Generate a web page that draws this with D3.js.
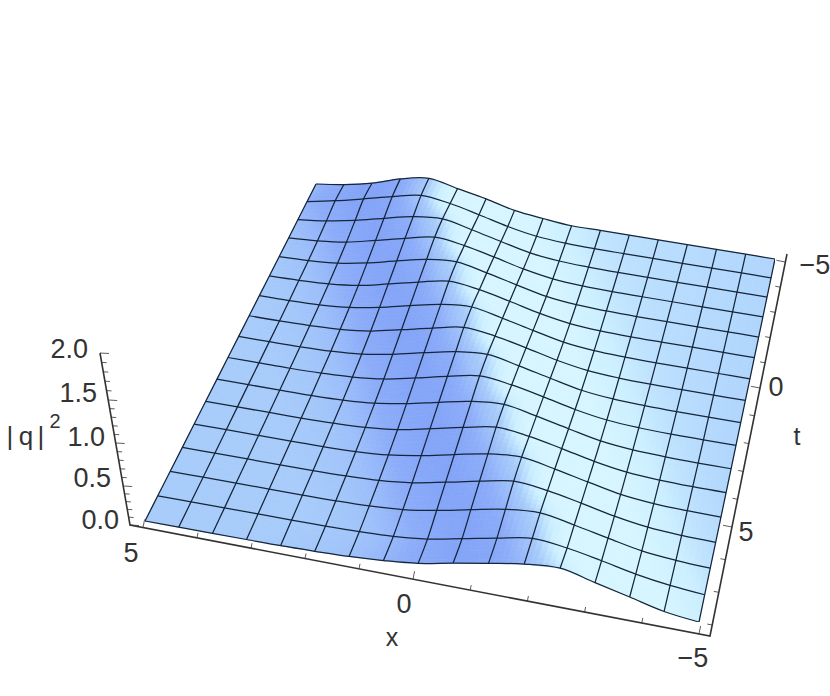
<!DOCTYPE html>
<html><head><meta charset="utf-8">
<script src="https://cdn.jsdelivr.net/npm/d3@7"></script>
<style>html,body{margin:0;background:#fff}svg{display:block}text{font-family:"Liberation Sans",Arial,sans-serif;fill:#333}</style>
</head><body><svg id="c" width="830" height="696"><defs><filter id="soft" x="0" y="0" width="100%" height="100%"><feGaussianBlur stdDeviation="0.4"/></filter></defs></svg>
<script>
const xValues=[5,4.375,3.75,3.125,2.5,1.875,1.25,0.625,0,-0.625,-1.25,-1.875,-2.5,-3.125,-3.75,-4.375,-5];
const tValues=[-5,-4.1875,-3.375,-2.5625,-1.75,-0.9375,-0.125,0.6875,1.5,2.3125,3.125,3.9375,4.75,5.5625,6.375,7.1875,8];
const surfaceZ=[
[0,.047,.116,.22,.28,.215,.15,.07,.03,0,0,0,0,0,0,0,0],
[0,.064,.14,.22,.29,.25,.175,.093,.035,.01,.001,0,0,0,0,0,0],
[0,.04,.10,.18,.255,.285,.215,.134,.058,.02,.006,0,0,0,0,0,0],
[0,.023,.064,.14,.22,.29,.25,.175,.093,.035,.01,.001,0,0,0,0,0],
[0,.012,.04,.10,.18,.255,.285,.215,.134,.058,.02,.006,0,0,0,0,0],
[0,.007,.023,.064,.14,.22,.29,.25,.175,.093,.035,.01,.001,0,0,0,0],
[0,.002,.012,.04,.10,.18,.255,.285,.215,.134,.058,.02,.006,0,0,0,0],
[0,0,.007,.023,.064,.14,.22,.29,.25,.175,.093,.035,.01,.001,0,0,0],
[0,0,.002,.012,.04,.10,.18,.255,.285,.215,.134,.058,.02,.006,0,0,0],
[0,0,0,.007,.023,.064,.14,.22,.29,.25,.175,.093,.035,.01,.001,0,0],
[0,0,0,.002,.012,.04,.10,.18,.255,.285,.215,.134,.058,.02,.006,0,0],
[0,0,0,0,.007,.023,.064,.14,.22,.29,.25,.175,.093,.035,.01,.001,0],
[0,0,0,0,.002,.012,.04,.10,.18,.255,.285,.215,.134,.058,.02,.006,0],
[0,0,0,0,0,.007,.023,.064,.14,.22,.29,.25,.175,.093,.035,.01,0],
[0,0,0,0,0,.002,.012,.04,.10,.18,.255,.285,.215,.134,.058,.02,0],
[0,0,0,0,0,0,.007,.023,.064,.14,.22,.29,.25,.175,.093,.035,0],
[0,0,0,0,0,.008,.02,.046,.086,.163,.233,.30,.326,.233,.14,.047,0]
];
const zTicks=[0,.5,1,1.5,2], zTickLabels=["0.0","0.5","1.0","1.5","2.0"];
const xTicks=[5,4,3,2,1,0,-1,-2,-3,-4,-5], xMajor=[5,0,-5];
const tTicks=[-5,-4,-3,-2,-1,0,1,2,3,4,5,6,7,8], tMajor=[-5,0,5];

const svg=d3.select("#c");
const u=d3.scaleLinear().domain([5,-5]).range([0,1]);
const v=d3.scaleLinear().domain([-5,8]).range([0,1]);
const lift=d3.scaleLinear().domain([0,2]).range([0,172]);
const Q=[[316,184],[775,259],[699,622],[145,521]];
function homography(q){
  const [[x0,y0],[x1,y1],[x2,y2],[x3,y3]]=q;
  const dx1=x1-x2,dx2=x3-x2,sx=x0-x1+x2-x3,dy1=y1-y2,dy2=y3-y2,sy=y0-y1+y2-y3;
  const det=dx1*dy2-dx2*dy1,g=(sx*dy2-dx2*sy)/det,h=(dx1*sy-sx*dy1)/det;
  const a=x1-x0+g*x1,b=x3-x0+h*x3,d=y1-y0+g*y1,e=y3-y0+h*y3;
  return (s,r)=>{const w=g*s+h*r+1;return [(a*s+b*r+x0)/w,(d*s+e*r+y0)/w];};
}
const floor=homography(Q);
const VP=[415,2160];
function project(x,t,z){
  const [px,py]=floor(u(x),v(t));
  const L=lift(z);
  return [px+L*(px-VP[0])/(VP[1]-py),py-L];
}
const nC=xValues.length,nR=tValues.length;
const pts=surfaceZ.map((row,r)=>row.map((z,c)=>project(xValues[c],tValues[r],z)));
const clampC=c=>Math.max(0,Math.min(nC-1,c));
const rawSlope=surfaceZ.map(row=>row.map((z,c)=>lift(row[clampC(c+1)])-lift(row[clampC(c-1)])));
const slope=rawSlope.map(row=>row.map((s,c)=>(row[clampC(c-1)]+2*s+row[clampC(c+1)])/4));
const crest=surfaceZ.map(row=>d3.scan(row,(a,b)=>b-a));
const shade=d3.scaleLinear().domain([-13,-7,-2,0,4,8,12]).range(["#d6f5ff","#ccefff","#b3d8fd","#a8ccfa","#9dbffa","#8dadf9","#84a4f8"]).clamp(true);
const tone=(r,c)=>slope[r][c]-(c>crest[r]?1.5+5*(nC-1-c)/(nC-1-crest[r]):0);
const g=svg.append("g").attr("filter","url(#soft)");
const N=6;
const lerp=(a,b,s)=>a+(b-a)*s;
for(let r=0;r<nR-1;r++)for(let c=0;c<nC-1;c++){
  for(let i=0;i<N;i++)for(let j=0;j<N;j++){
    const P=(a,b)=>{const s=a/N,q=b/N;
      const top=[lerp(pts[r][c][0],pts[r][c+1][0],s),lerp(pts[r][c][1],pts[r][c+1][1],s)];
      const bot=[lerp(pts[r+1][c][0],pts[r+1][c+1][0],s),lerp(pts[r+1][c][1],pts[r+1][c+1][1],s)];
      return [lerp(top[0],bot[0],q),lerp(top[1],bot[1],q)];};
    const s=(i+.5)/N,q=(j+.5)/N;
    const tv=lerp(lerp(tone(r,c),tone(r,c+1),s),lerp(tone(r+1,c),tone(r+1,c+1),s),q);
    const col=shade(tv);
    g.append("polygon").attr("points",[P(i,j),P(i+1,j),P(i+1,j+1),P(i,j+1)].join(" ")).attr("fill",col).attr("stroke",col).attr("stroke-width",.7);
  }
}
const line=d3.line().curve(d3.curveCatmullRom.alpha(.5));
const mesh=g.append("g").attr("fill","none").attr("stroke","#15253a").attr("stroke-width",1.25);
pts.forEach(row=>mesh.append("path").attr("d",line(row)));
d3.range(nC).forEach(c=>mesh.append("path").attr("d",line(pts.map(row=>row[c]))));

const axes=svg.append("g").attr("stroke","#333").attr("fill","none");
const ZA=[130,525],ZB=[100,353],XB=[710,636],TB=[787,254];
axes.append("path").attr("stroke-width",1.6).attr("d",d3.line()([ZB,ZA,XB,TB]));
const zY=d3.scaleLinear().domain(zTicks).range([525,486,443,400,353]);
const zX=d3.scaleLinear().domain([525,353]).range([130,100]);
const xX=d3.scaleLinear().domain([5,0,-5]).range([143,413,699]);
const xY=d3.scaleLinear().domain([130,710]).range([525,636]);
const tY=d3.scaleLinear().domain([-5,0,5,8]).range([262,388,527,625]);
const tX=d3.scaleLinear().domain([636,254]).range([710,787]);
const tk=(a,b)=>axes.append("path").attr("stroke-width",.8).attr("d",d3.line()([a,b]));
d3.range(0,2.01,.1).forEach(z=>{const y=zY(z),x=zX(y),m=Math.abs(z*2-Math.round(z*2))<.01;tk([x,y],[x+(m?9:5),y+(m?.5:.3)]);});
xTicks.forEach(d=>{const x=xX(d),y=xY(x),L=xMajor.includes(d)?8:5;tk([x,y],[x+.2*L,y-L]);});
tTicks.forEach(d=>{const y=tY(d),x=tX(y),L=tMajor.includes(d)?9:5;tk([x,y],[x-L,y-.19*L]);});

const label=(s,x,y,a,fs=27)=>svg.append("text").attr("x",x).attr("y",y).attr("text-anchor",a).attr("font-size",fs).text(s);
zTickLabels.forEach((s,i)=>label(s,[119,111,105,97,88][i],[529,487,446,402,358][i],"end"));
label("5",131,562,"middle");
label("0",404,613,"middle");
label("\u22125",693,667,"middle");
label("\u22125",815,274,"middle");
label("0",776,396,"middle");
label("5",746,541,"middle");
label("x",392,646,"middle",25);
label("t",797,445,"middle",25);
label("|",10,445,"middle",26);label("q",26,445,"middle",26);label("|",41,445,"middle",26);
label("2",55,428,"middle",20);
</script></body></html>
